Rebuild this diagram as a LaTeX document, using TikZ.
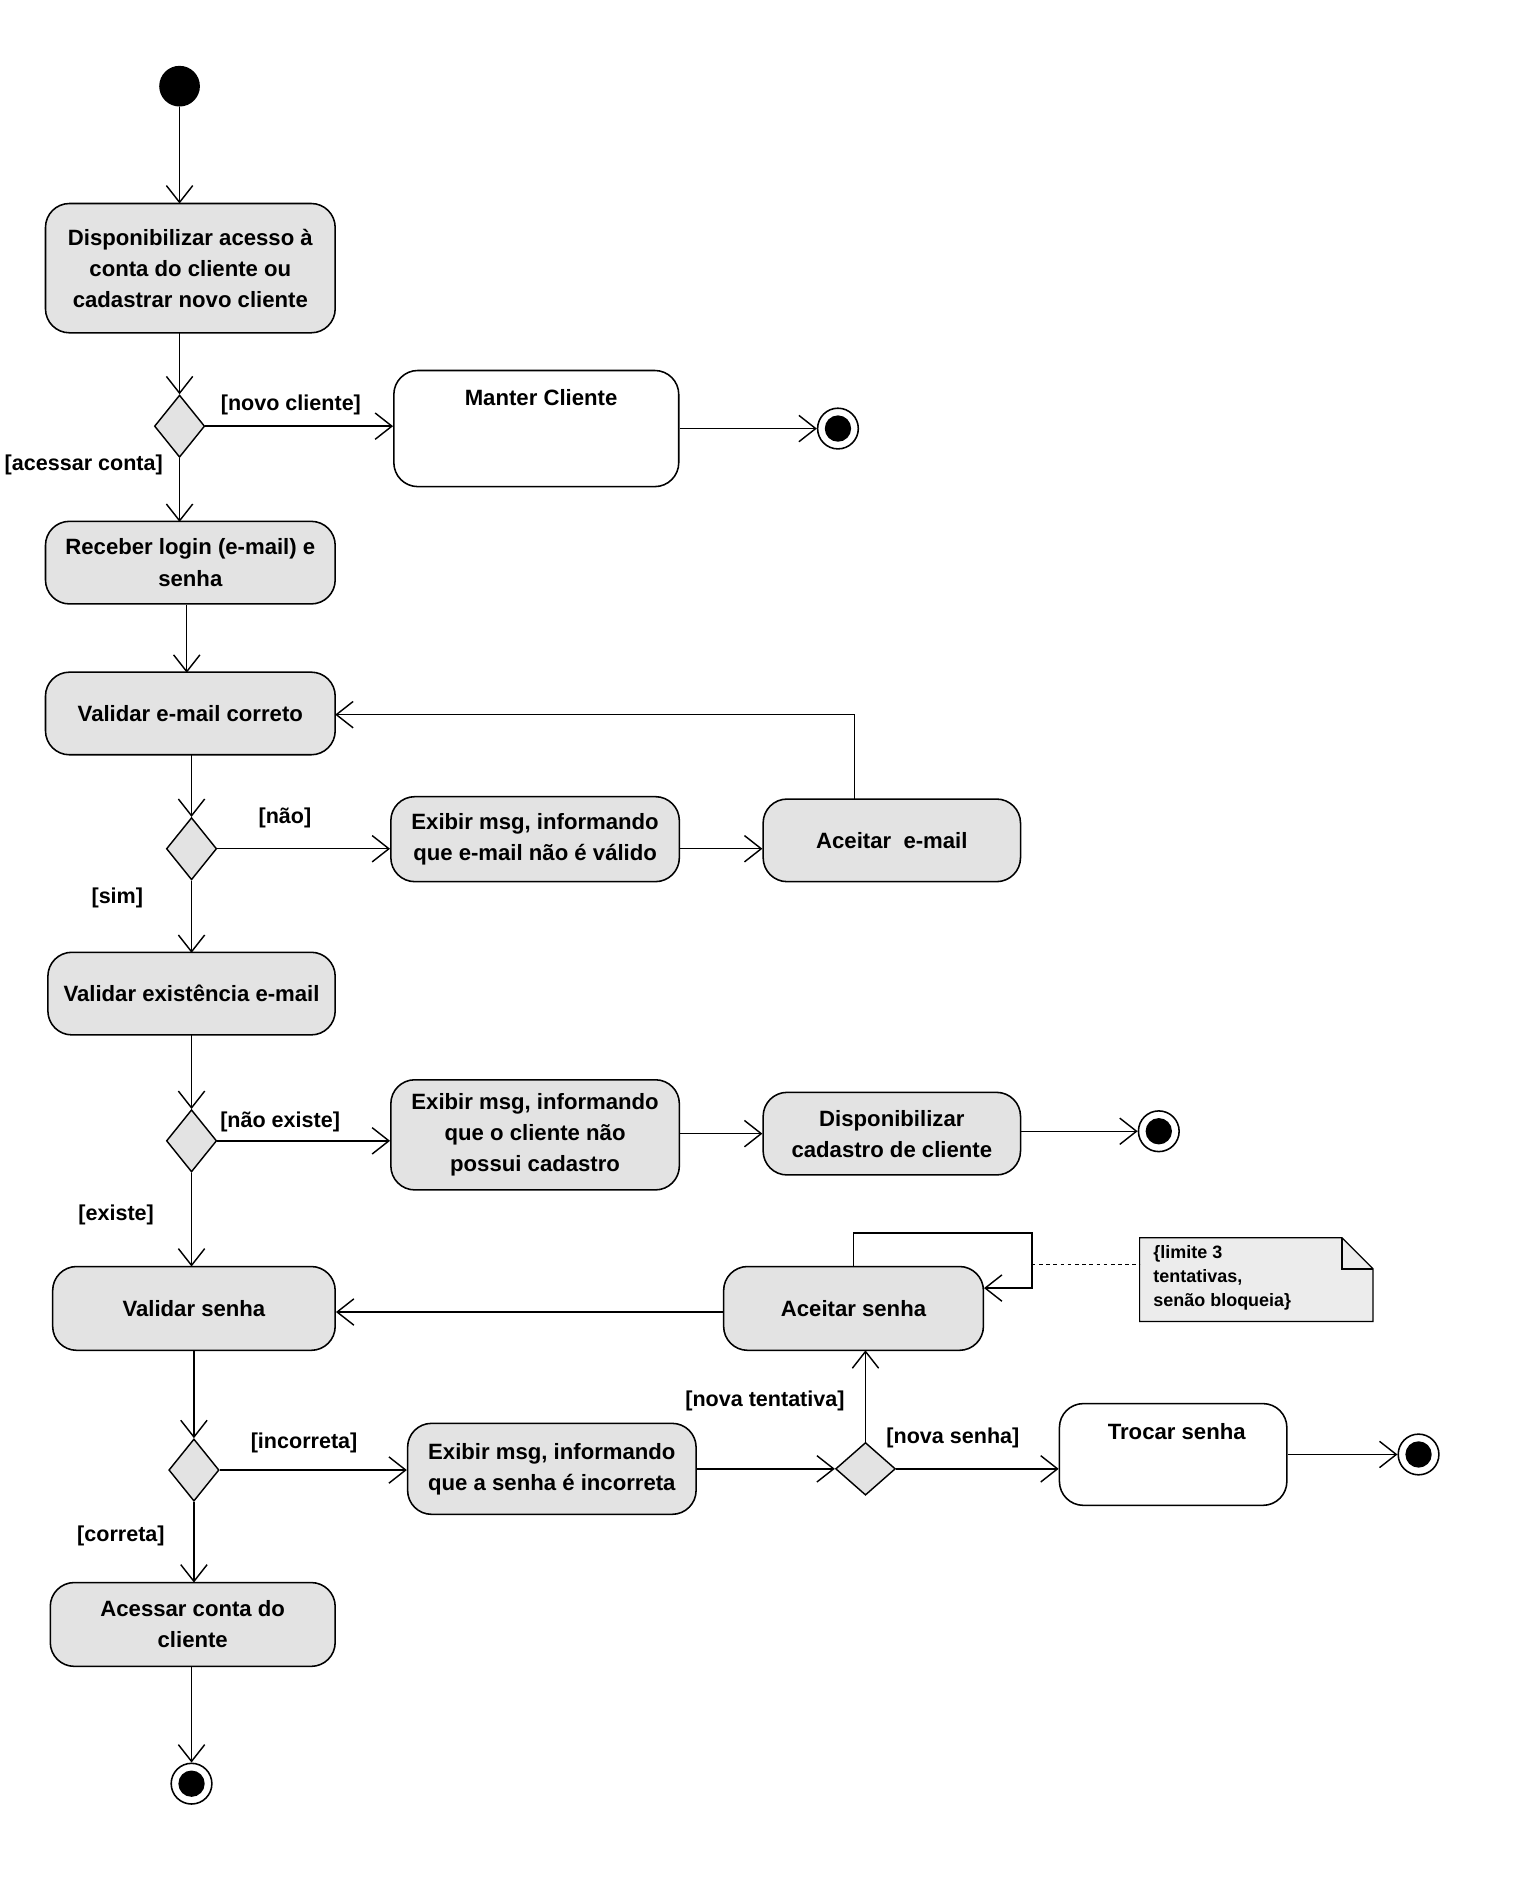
\documentclass[tikz,border=0pt]{standalone}
\usepackage{fontspec}
\setmainfont{Liberation Sans}
\usetikzlibrary{arrows.meta,shapes.geometric}
\begin{document}
\begin{tikzpicture}[x=1pt,y=-1pt,
  every node/.style={font=\fontsize{18.5}{26}\selectfont\bfseries},
  act/.style={draw,line width=1.3pt,rounded corners=20pt,fill=gray!22,align=center,inner sep=0pt},
  sub/.style={draw,line width=1.3pt,rounded corners=20pt,fill=white,inner sep=0pt},
  dec/.style={draw,line width=1.2pt,fill=gray!22,diamond,minimum width=42pt,minimum height=52pt,inner sep=0pt,aspect=0.8},
  fin/.style={circle,draw,line width=1.3pt,fill=white,minimum size=34pt,inner sep=0pt},
  fl/.style={line width=1.2pt,-{Straight Barb[length=14pt,width=22pt,line width=1.2pt]}},
  lab/.style={font=\fontsize{18}{22}\selectfont\bfseries}]
\useasboundingbox (0,0) rectangle (1270,1578);
\node[circle,fill=black,minimum size=34pt,inner sep=0pt] (s) at (150,72) {};
\node[act,minimum width=242pt,minimum height=108pt] (a1) at (159,224) {Disponibilizar acesso à\\conta do cliente ou\\cadastrar novo cliente};
\node[dec] (d1) at (150,356) {};
\node[sub,minimum width=238pt,minimum height=97pt] (mc) at (448,358) {};
\node at (452,332) {Manter Cliente};
\node[fin] (e1) at (700,358) {}; \fill (e1) circle (11pt);
\node[act,minimum width=242pt,minimum height=69pt] (a2) at (159,470) {Receber login (e-mail) e\\senha};
\node[act,minimum width=242pt,minimum height=69pt] (a3) at (159,596) {Validar e-mail correto};
\node[dec] (d2) at (160,709) {};
\node[act,minimum width=241pt,minimum height=71pt] (a4) at (447,701) {Exibir msg, informando\\que e-mail não é válido};
\node[act,minimum width=215pt,minimum height=69pt] (a5) at (745,702) {Aceitar\ \ e-mail};
\node[act,minimum width=240pt,minimum height=69pt] (a6) at (160,830) {Validar existência e-mail};
\node[dec] (d3) at (160,953) {};
\node[act,minimum width=241pt,minimum height=92pt] (a7) at (447,948) {Exibir msg, informando\\que o cliente não\\possui cadastro};
\node[act,minimum width=215pt,minimum height=69pt] (a8) at (745,947) {Disponibilizar\\cadastro de cliente};
\node[fin] (e2) at (968,945) {}; \fill (e2) circle (11pt);
\node[act,minimum width=236pt,minimum height=70pt] (a9) at (162,1093) {Validar senha};
\node[act,minimum width=217pt,minimum height=70pt] (a10) at (713,1093) {Aceitar senha};
\draw[line width=1pt,fill=gray!15] (952,1034) -- (1121,1034) -- (1147,1060) -- (1147,1104) -- (952,1104) -- cycle;
\draw[line width=1pt] (1121,1034) -- (1121,1060) -- (1147,1060);
\node[font=\fontsize{15}{20}\selectfont\bfseries,align=left,anchor=north west] (note) at (960,1037) {\{limite 3\\tentativas,\\senão bloqueia\}};
\coordinate (nl) at (952,1056);
\node[dec] (d4) at (162,1228) {};
\node[act,minimum width=241pt,minimum height=76pt] (a11) at (461,1227) {Exibir msg, informando\\que a senha é incorreta};
\node[dec,minimum width=50pt,minimum height=44pt] (d5) at (723,1227) {};
\node[sub,minimum width=190pt,minimum height=85pt] (tr) at (980,1215) {};
\node at (983,1196) {Trocar senha};
\node[fin] (e3) at (1185,1215) {}; \fill (e3) circle (11pt);
\node[act,minimum width=238pt,minimum height=70pt] (a12) at (161,1357) {Acessar conta do\\cliente};
\node[fin] (e4) at (160,1490) {}; \fill (e4) circle (11pt);
% edges
\draw[fl] (s) -- (150,170);
\draw[fl] (150,278) -- (d1.north);
\draw[fl] (d1.east) -- (mc.west |- d1.east);
\node[lab] at (243,338) {[novo cliente]};
\draw[fl] (d1.south) -- (150,436);
\node[lab] at (70,388) {[acessar conta]};
\draw[fl] (mc.east) -- (e1);
\draw[fl] (156,505) -- (156,562);
\draw[fl] (160,631) -- (d2.north);
\draw[fl] (d2.east) -- (a4.west |- d2.east);
\node[lab] at (238,683) {[não]};
\draw[fl] (a4.east |- 0,709) -- (a5.west |- 0,709);
\draw[fl] (714,668) -- (714,597) -- (280,597);
\draw[fl] (d2.south) -- (160,796);
\node[lab] at (98,750) {[sim]};
\draw[fl] (160,865) -- (d3.north);
\draw[fl] (d3.east) -- (a7.west |- d3.east);
\node[lab] at (234,937) {[não existe]};
\draw[fl] (a7.east |- 0,947) -- (a8.west |- 0,947);
\draw[fl] (a8.east |- e2) -- (e2);
\draw[fl] (d3.south) -- (160,1058);
\node[lab] at (97,1015) {[existe]};
\draw[fl] (a10.west |- 0,1096) -- (a9.east |- 0,1096);
\draw[fl] (713,1058) -- (713,1030) -- (862,1030) -- (862,1076) -- (822,1076);
\draw[line width=1pt,dashed] (862,1056) -- (nl);
\draw[fl] (162,1128) -- (d4.north);
\draw[fl] (d4.east) -- (a11.west |- d4.east);
\node[lab] at (254,1205) {[incorreta]};
\draw[fl] (a11.east |- d5) -- (d5.west);
\draw[fl] (d5.north) -- (723,1128);
\node[lab] at (639,1170) {[nova tentativa]};
\draw[fl] (d5.east) -- (tr.west |- d5);
\node[lab] at (796,1201) {[nova senha]};
\draw[fl] (tr.east) -- (e3);
\draw[fl] (d4.south) -- (162,1322);
\node[lab] at (101,1283) {[correta]};
\draw[fl] (160,1392) -- (e4);
\end{tikzpicture}
\end{document}
